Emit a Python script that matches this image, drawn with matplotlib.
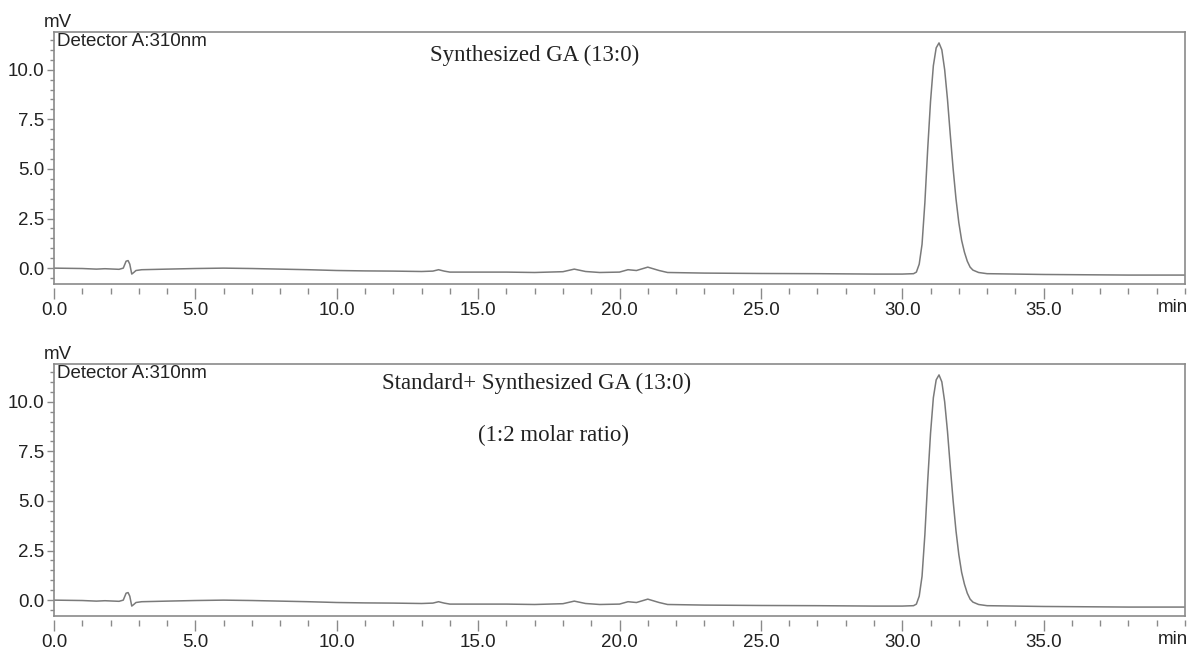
import matplotlib
matplotlib.use("Agg")
import matplotlib.pyplot as plt
from matplotlib.ticker import MultipleLocator, FormatStrFormatter, FixedLocator

# retention time (min) and detector signal (mV)
time_min = [0.0, 1.0, 1.5, 1.8, 2.3, 2.45, 2.55, 2.62, 2.68, 2.75, 2.82, 2.9, 3.1,
            4.0, 5.0, 6.0, 7.0, 8.0, 9.0, 10.0, 11.0, 12.0, 13.0, 13.4, 13.6, 13.8,
            14.0, 15.0, 16.0, 17.0, 18.0, 18.4, 18.8, 19.3, 20.0, 20.3, 20.6, 21.0,
            21.4, 21.7, 23.0, 25.0, 27.0, 29.0, 30.0, 30.4, 30.5, 30.6, 30.7, 30.8,
            30.9, 31.0, 31.1, 31.2, 31.3, 31.4, 31.5, 31.6, 31.7, 31.8, 31.9, 32.0,
            32.1, 32.2, 32.3, 32.4, 32.5, 32.7, 33.0, 35.0, 38.0, 40.0]
signal_synth = [0.0, -0.02, -0.05, -0.03, -0.06, 0.0, 0.35, 0.38, 0.2, -0.3, -0.22, -0.12, -0.08,
                -0.05, -0.02, 0.0, -0.02, -0.05, -0.08, -0.12, -0.14, -0.15, -0.17, -0.15, -0.08, -0.15,
                -0.2, -0.2, -0.2, -0.22, -0.18, -0.05, -0.17, -0.22, -0.2, -0.08, -0.12, 0.05,
                -0.12, -0.22, -0.25, -0.27, -0.28, -0.3, -0.3, -0.28, -0.2, 0.2, 1.2, 3.3,
                6.0, 8.4, 10.2, 11.1, 11.35, 11.0, 10.0, 8.5, 6.7, 5.0, 3.5, 2.3,
                1.4, 0.8, 0.35, 0.05, -0.1, -0.22, -0.28, -0.32, -0.35, -0.35]
signal_mix = [0.0, -0.02, -0.05, -0.03, -0.06, 0.0, 0.35, 0.38, 0.2, -0.3, -0.22, -0.12, -0.08,
              -0.05, -0.02, 0.0, -0.02, -0.05, -0.08, -0.12, -0.14, -0.15, -0.17, -0.15, -0.08, -0.15,
              -0.2, -0.2, -0.2, -0.22, -0.18, -0.05, -0.17, -0.22, -0.2, -0.08, -0.12, 0.05,
              -0.12, -0.22, -0.25, -0.27, -0.28, -0.3, -0.3, -0.28, -0.2, 0.2, 1.2, 3.3,
              6.0, 8.4, 10.2, 11.1, 11.35, 11.0, 10.0, 8.5, 6.7, 5.0, 3.5, 2.3,
              1.4, 0.8, 0.35, 0.05, -0.1, -0.22, -0.28, -0.32, -0.35, -0.35]

x_ticks = [0.0, 5.0, 10.0, 15.0, 20.0, 25.0, 30.0, 35.0]
panel_labels = [["Synthesized GA (13:0)"],
                ["Standard+ Synthesized GA (13:0)", "(1:2 molar ratio)"]]
detector_label = "Detector A:310nm"

W, H = 1188, 650
fig = plt.figure(figsize=(W / 100, H / 100), dpi=100)
sans = ["Liberation Sans", "DejaVu Sans"]
serif = ["Liberation Serif", "DejaVu Serif"]

edge = "#8a8a8a"
line_c = "#7a7a7a"
txt_c = "#222222"

def fx(px):
    return px / W

def fy(py):
    return 1 - py / H

panels = [(32, 284, signal_synth), (364, 616, signal_mix)]
for top, bot, sig in panels:
    ax = fig.add_axes([fx(54), fy(bot), fx(1185) - fx(54), fy(top) - fy(bot)])
    ax.plot(time_min, sig, color=line_c, lw=1.1)
    for s in ["top", "right", "left"]:
        ax.spines[s].set_color(edge)
        ax.spines[s].set_linewidth(1.2)
    ax.spines["bottom"].set_position(("outward", 3))
    ax.spines["bottom"].set_visible(False)
    ax.plot([0, 1], [0, 0], transform=ax.transAxes, color=edge, lw=1.2, clip_on=False)
    ax.xaxis.set_major_locator(FixedLocator(x_ticks))
    ax.xaxis.set_minor_locator(MultipleLocator(1))
    ax.yaxis.set_major_locator(MultipleLocator(2.5))
    ax.yaxis.set_minor_locator(MultipleLocator(0.5))
    ax.xaxis.set_major_formatter(FormatStrFormatter("%.1f"))
    ax.yaxis.set_major_formatter(FormatStrFormatter("%.1f"))
    ax.set_xlim(0, 40)
    ax.set_ylim(-0.8, 11.9)
    ax.tick_params(axis="x", which="major", length=8, width=1.0, color=edge, pad=2,
                   labelsize=13.5)
    ax.tick_params(axis="x", which="minor", length=4, width=1.0, color=edge)
    ax.tick_params(axis="y", which="major", length=5, width=1.0, color=edge, pad=2,
                   labelsize=13.5)
    ax.tick_params(axis="y", which="minor", length=3, width=1.0, color=edge)
    for lab in ax.get_xticklabels() + ax.get_yticklabels():
        lab.set_fontfamily(sans)
        lab.set_color(txt_c)
    ax.text(0.003, 0.997, detector_label, transform=ax.transAxes, ha="left", va="top",
            fontsize=13.5, family=sans, color=txt_c)
    fig.text(fx(44), fy(top - 1), "mV", ha="left", va="bottom", fontsize=13.5,
             family=sans, color=txt_c)
    fig.text(fx(1188), fy(bot + 23), "min", ha="right", va="center", fontsize=13.5,
             family=sans, color=txt_c)

fig.text(fx(535), fy(55), panel_labels[0][0], ha="center", va="center",
         fontsize=16.5, family=serif, color=txt_c)
fig.text(fx(537), fy(383), panel_labels[1][0], ha="center", va="center",
         fontsize=16.5, family=serif, color=txt_c)
fig.text(fx(553), fy(435), panel_labels[1][1], ha="center", va="center",
         fontsize=16.5, family=serif, color=txt_c)

fig.savefig("out.png", dpi=100, facecolor="white")
